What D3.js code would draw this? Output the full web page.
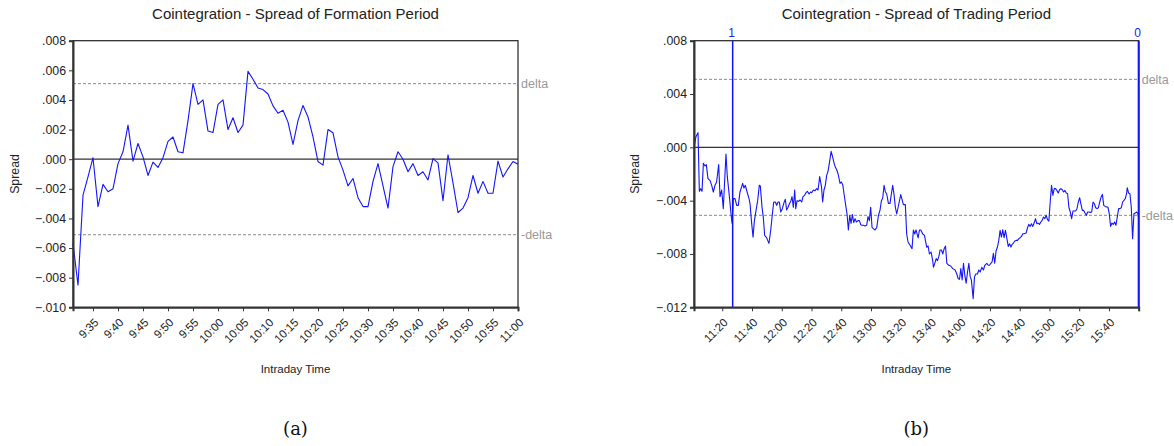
<!DOCTYPE html>
<html><head><meta charset="utf-8">
<script src="https://cdn.jsdelivr.net/npm/d3@7"></script>
<style>
body{margin:0;background:#fff}
svg text{font-family:"Liberation Sans",Arial,Helvetica,sans-serif}
</style>
</head><body>
<svg id="c" width="1174" height="446"></svg>
<script>
// ---------- data ----------
const formTitle = "Cointegration - Spread of Formation Period";
const tradeTitle = "Cointegration - Spread of Trading Period";
const formStart = "9:31", formEnd = "11:00";
// one value per minute from 9:31 to 11:00
const formValues = [-0.00569,-0.0085,-0.00243,-0.0012,0.0001,-0.0032,-0.0017,-0.0022,-0.002,-0.0003,
 0.0005,0.0023,-0.00013,0.00106,0.00016,-0.0011,-0.0002,-0.00056,0.0001,0.0012,
 0.0015,0.0005,0.00043,0.0026,0.0051,0.0037,0.004,0.0019,0.0018,0.0037,
 0.004,0.002,0.0028,0.0018,0.0023,0.00593,0.0054,0.0048,0.0047,0.0044,
 0.0036,0.0031,0.0033,0.0025,0.001,0.0026,0.00363,0.00285,0.0015,-0.00016,
 -0.0004,0.002,0.00178,0.00016,-0.00074,-0.0018,-0.0013,-0.0026,-0.0032,-0.0032,
 -0.0015,-0.0003,-0.0018,-0.0033,-0.0005,0.0005,0.0,-0.00085,-0.0003,-0.0011,
 -0.00085,-0.0014,0.00004,-0.00025,-0.0028,0.0003,-0.0016,-0.0036,-0.0033,-0.0026,
 -0.0011,-0.0023,-0.0015,-0.0023,-0.0023,-0.00013,-0.0012,-0.00065,-0.00016,-0.00034];
const formTicks = ["9:35","9:40","9:45","9:50","9:55","10:00","10:05","10:10","10:15","10:20",
 "10:25","10:30","10:35","10:40","10:45","10:50","10:55","11:00"];
const formYTicks = [0.008,0.006,0.004,0.002,0,-0.002,-0.004,-0.006,-0.008,-0.010];

const tradeStart = "11:01", tradeEnd = "16:00";
// minutes after 11:01 and spread values
const tradeOffsets = [0,1.3,2.7,3.6,4.5,5.4,6.3,7.4,8.3,9.4,10.8,11.9,13.0,14.1,15.2,16.6,17.5,18.6,19.7,21.5,
 22.4,23.8,24.9,25.6,26.5,27.6,28.7,29.8,30.9,32.1,32.7,33.6,34.5,35.7,37.0,37.7,38.6,39.7,40.6,41.7,
 42.8,43.9,44.6,45.7,46.6,47.5,48.7,49.6,50.4,51.6,52.7,53.6,54.7,55.6,56.5,57.4,58.3,59.4,60.5,61.4,
 62.3,63.2,64.1,65.2,65.9,66.8,67.7,68.4,69.3,70.4,71.3,72.4,73.3,74.4,75.3,76.2,77.4,78.3,79.1,80.3,
 81.4,82.5,83.4,84.5,85.7,86.5,87.4,88.3,89.2,90.1,91.0,92.2,93.3,94.2,95.1,96.0,96.9,98.2,99.1,100.0,
 100.9,102.0,102.9,103.8,104.7,105.6,106.5,107.4,108.3,109.2,110.3,111.2,112.1,113.0,113.9,115.0,116.1,117.0,117.9,118.8,
 119.7,120.6,121.7,122.9,124.0,125.1,126.0,126.9,127.8,128.7,129.6,130.7,131.8,132.7,133.6,134.5,135.4,136.3,137.7,139.0,
 140.8,142.1,143.0,143.9,145.3,146.6,147.5,148.4,149.3,150.7,151.6,152.5,153.8,155.0,155.6,156.5,157.4,158.3,159.4,160.5,
 161.0,161.9,162.8,163.7,164.6,165.5,166.4,167.3,168.2,169.1,170.0,171.3,172.6,174.0,175.6,176.7,177.6,178.5,179.4,180.3,
 181.2,182.1,183.0,183.9,184.8,185.7,186.5,187.7,188.6,189.5,190.6,191.5,192.4,193.5,194.6,195.5,196.9,197.8,198.7,199.6,
 200.4,201.3,202.2,203.1,204.0,204.9,205.8,206.7,207.6,208.5,209.4,210.4,211.3,212.2,213.1,213.9,214.8,215.7,216.6,217.5,
 218.4,219.3,220.2,221.1,222.0,223.3,224.2,225.1,226.0,226.9,227.8,228.7,229.6,230.5,231.4,232.3,233.2,234.1,235.0,235.9,
 236.8,237.7,238.6,239.5,240.4,241.3,242.2,243.1,244.0,244.9,245.8,246.7,247.6,248.5,249.4,250.3,251.2,252.1,253.0,253.9,
 254.8,255.7,256.6,257.5,258.4,259.3,260.2,261.1,262.0,262.9,263.8,264.7,265.6,266.5,267.4,268.3,269.2,270.1,271.0,271.9,
 272.8,273.7,274.6,275.5,276.5,277.4,278.3,279.2,280.1,281.0,281.9,282.8,283.7,284.6,285.5,286.4,287.3,288.2,289.1,290.0,
 290.9,291.3,292.2,293.1,294.0,294.9,295.8,296.7,297.6,298.5,299.0];
const tradeValues = [-0.0001,0.0008,0.0011,-0.0033,-0.0031,-0.0033,-0.0012,-0.0014,-0.0013,-0.00235,-0.0025,-0.00285,-0.00335,-0.00285,-0.0026,-0.0013,-0.0037,-0.0032,-0.0046,-0.0005,
 -0.0022,-0.0037,-0.005,-0.0057,-0.00385,-0.00385,-0.00435,-0.00435,-0.00335,-0.00295,-0.0027,-0.00305,-0.00285,-0.00335,-0.00385,-0.00425,-0.0055,-0.00675,-0.0055,-0.00475,
 -0.004,-0.00285,-0.0029,-0.00445,-0.00525,-0.0066,-0.00675,-0.007,-0.0072,-0.0062,-0.005,-0.0041,-0.0041,-0.00435,-0.0041,-0.0041,-0.00485,-0.0046,-0.00415,-0.0039,
 -0.0047,-0.0045,-0.00425,-0.004,-0.0037,-0.0045,-0.0032,-0.0046,-0.004,-0.00405,-0.00395,-0.0041,-0.0037,-0.0036,-0.0034,-0.0033,-0.0035,-0.00335,-0.0034,-0.0032,
 -0.00325,-0.0031,-0.0032,-0.0022,-0.00295,-0.0041,-0.0032,-0.00285,-0.0021,-0.0018,-0.0012,-0.0003,-0.00075,-0.0012,-0.0015,-0.0017,-0.002,-0.0027,-0.0026,-0.0028,
 -0.0035,-0.00435,-0.005,-0.0062,-0.0051,-0.0057,-0.00505,-0.00565,-0.00535,-0.0056,-0.0055,-0.0055,-0.0058,-0.00585,-0.00585,-0.0059,-0.00585,-0.0052,-0.0055,-0.0045,
 -0.006,-0.0061,-0.0062,-0.006,-0.0051,-0.0047,-0.004,-0.0038,-0.00285,-0.00335,-0.0035,-0.0042,-0.0042,-0.0035,-0.00285,-0.00355,-0.0045,-0.005,-0.00425,-0.00355,
 -0.0043,-0.0043,-0.0065,-0.0071,-0.00735,-0.0076,-0.0062,-0.0065,-0.0062,-0.0068,-0.0062,-0.0062,-0.0065,-0.0066,-0.007,-0.0075,-0.0074,-0.008,-0.00785,-0.0085,
 -0.009,-0.0087,-0.00835,-0.0085,-0.0082,-0.0077,-0.0077,-0.008,-0.0076,-0.0074,-0.0087,-0.00885,-0.0089,-0.0091,-0.0092,-0.0095,-0.00985,-0.0099,-0.0091,-0.00995,
 -0.0087,-0.0096,-0.0102,-0.00935,-0.0087,-0.0097,-0.00995,-0.01135,-0.0097,-0.0095,-0.0095,-0.0092,-0.00935,-0.009,-0.0092,-0.00885,-0.0087,-0.00885,-0.00885,-0.0087,
 -0.0086,-0.00795,-0.0087,-0.00778,-0.00748,-0.007,-0.00623,-0.00673,-0.00618,-0.00678,-0.00623,-0.00685,-0.00743,-0.00723,-0.00748,-0.00728,-0.00718,-0.00703,-0.00698,-0.00698,
 -0.00685,-0.00678,-0.00668,-0.00648,-0.00648,-0.00643,-0.00605,-0.00578,-0.00593,-0.00573,-0.00593,-0.00568,-0.00535,-0.00573,-0.00568,-0.00578,-0.0056,-0.00548,-0.00523,-0.00535,
 -0.0051,-0.00543,-0.00553,-0.0041,-0.00285,-0.0036,-0.0031,-0.0031,-0.00323,-0.00343,-0.00318,-0.0031,-0.00318,-0.00335,-0.00323,-0.00343,-0.00348,-0.00453,-0.00485,-0.00535,
 -0.00478,-0.00478,-0.00478,-0.0046,-0.0041,-0.00378,-0.00428,-0.00473,-0.00473,-0.00493,-0.0051,-0.00485,-0.00485,-0.00488,-0.00485,-0.0041,-0.00423,-0.00453,-0.0046,-0.00453,
 -0.0041,-0.00373,-0.00353,-0.00435,-0.00443,-0.00448,-0.00448,-0.00498,-0.00593,-0.00568,-0.00578,-0.0056,-0.00585,-0.00523,-0.0046,-0.0046,-0.00453,-0.0041,-0.00398,-0.00385,
 -0.00343,-0.00303,-0.00343,-0.00348,-0.00448,-0.00685,-0.00498,-0.00493,-0.00485,-0.00498,-0.00535];
const tradeTicks = ["11:20","11:40","12:00","12:20","12:40","13:00","13:20","13:40","14:00","14:20",
 "14:40","15:00","15:20","15:40"];
const tradeYTicks = [0.008,0.004,0,-0.004,-0.008,-0.012];
const delta = 0.0051;
const signalTimes = ["11:27","16:00"];
const signalLabels = ["1","0"];

// ---------- drawing ----------
const svg = d3.select("#c");
const toMin = s => { const [h,m] = s.split(":").map(Number); return h*60+m; };
const yFmt = d => { if (d === 0) return ".000"; return d3.format(".3f")(d).replace("0.", "."); };

function panel(o) {
  const g = svg.append("g");
  const x = d3.scaleLinear().domain([toMin(o.start), toMin(o.end)]).range([o.x0, o.x1]);
  const y = d3.scaleLinear().domain([o.yTicks[o.yTicks.length-1], o.yTicks[0]]).range([o.y1, o.y0]);
  const cx = (o.x0 + o.x1) / 2;

  g.append("text").attr("x", cx).attr("y", 19).attr("text-anchor", "middle")
    .attr("font-size", 15).attr("fill", "#222").text(o.title);

  // reference lines
  g.append("line").attr("x1", o.x0).attr("x2", o.x1).attr("y1", y(0)).attr("y2", y(0))
    .attr("stroke", "#333").attr("stroke-width", 1.2);
  [delta, -delta].forEach(v => {
    g.append("line").attr("x1", o.x0).attr("x2", o.x1).attr("y1", y(v)).attr("y2", y(v))
      .attr("stroke", "#8a8a8a").attr("stroke-width", 1).attr("stroke-dasharray", "3,2");
  });
  g.append("text").attr("x", o.x1 + 3).attr("y", y(delta) + 4.5).attr("font-size", 12.5)
    .attr("fill", "#999").text("delta");
  g.append("text").attr("x", o.x1 + 3).attr("y", y(-delta) + 4.5).attr("font-size", 12.5)
    .attr("fill", "#999").text("-delta");

  // frame
  g.append("rect").attr("x", o.x0).attr("y", o.y0).attr("width", o.x1 - o.x0).attr("height", o.y1 - o.y0)
    .attr("fill", "none").attr("stroke", "#222").attr("stroke-width", 1.2);

  // series
  const line = d3.line().x(d => x(d[0])).y(d => y(d[1]));
  g.append("path").datum(o.data).attr("d", line).attr("fill", "none")
    .attr("stroke", "#1414ff").attr("stroke-width", 1.1).attr("stroke-linejoin", "round");

  // signals
  (o.signals || []).forEach(s => {
    const sx = x(toMin(s.t));
    g.append("line").attr("x1", sx).attr("x2", sx).attr("y1", o.y0).attr("y2", o.y1)
      .attr("stroke", "#1010ff").attr("stroke-width", s.w);
    g.append("text").attr("x", sx - 1).attr("y", 37).attr("text-anchor", "middle")
      .attr("font-size", 12).attr("fill", "#2020ff").text(s.label);
  });

  // y axis
  const ya = g.append("g").attr("transform", `translate(${o.x0},0)`)
    .call(d3.axisLeft(y).tickValues(o.yTicks).tickFormat(yFmt).tickSize(4).tickPadding(3));
  ya.select(".domain").attr("stroke", "#333").attr("stroke-width", 2);
  ya.selectAll(".tick line").attr("stroke", "#333");
  ya.selectAll("text").attr("font-size", 12.3).attr("fill", "#222").style("font-family", "Liberation Sans, Arial, sans-serif");

  // x axis
  const tv = o.xTicks.map(toMin).concat(o.extraTick ? [toMin(o.end)] : []);
  const labelSet = new Set(o.xTicks.map(toMin));
  const xa = g.append("g").attr("transform", `translate(0,${o.y1})`)
    .call(d3.axisBottom(x).tickValues(tv).tickSize(4)
      .tickFormat(v => labelSet.has(v) ? o.xTicks[o.xTicks.map(toMin).indexOf(v)] : ""));
  xa.select(".domain").attr("stroke", "#333").attr("stroke-width", 2);
  xa.selectAll(".tick line").attr("stroke", "#333");
  xa.selectAll("text").attr("font-size", 11.5).attr("fill", "#222")
    .style("font-family", "Liberation Sans, Arial, sans-serif")
    .attr("text-anchor", "end").attr("x", 0).attr("y", 0).attr("dy", "0.35em")
    .attr("transform", "translate(3,13) rotate(-45)");

  g.append("text").attr("x", o.yLabelX).attr("y", (o.y0 + o.y1) / 2).attr("text-anchor", "middle")
    .attr("font-size", 12.3).attr("fill", "#222")
    .attr("transform", `rotate(-90,${o.yLabelX},${(o.y0 + o.y1) / 2})`).text("Spread");
  g.append("text").attr("x", cx).attr("y", 373).attr("text-anchor", "middle")
    .attr("font-size", 11.5).attr("fill", "#222").text("Intraday Time");
  g.append("text").attr("x", cx).attr("y", 435).attr("text-anchor", "middle")
    .attr("font-size", 18).attr("fill", "#111").style("font-family", "DejaVu Serif, serif").text(o.caption);
}

const fStart = toMin(formStart);
panel({
  title: formTitle, start: formStart, end: formEnd,
  x0: 73, x1: 518, y0: 40.7, y1: 307.3, yTicks: formYTicks, xTicks: formTicks,
  data: formValues.map((v, i) => [fStart + i, v]),
  yLabelX: 19, caption: "(a)", extraTick: false
});
const tStart = toMin(tradeStart);
panel({
  title: tradeTitle, start: tradeStart, end: tradeEnd,
  x0: 694, x1: 1138.7, y0: 40.7, y1: 307.3, yTicks: tradeYTicks, xTicks: tradeTicks,
  data: tradeOffsets.map((m, i) => [tStart + m, tradeValues[i]]),
  yLabelX: 639, caption: "(b)", extraTick: true,
  signals: signalTimes.map((t, i) => ({t, label: signalLabels[i], w: i === 0 ? 1.5 : 2}))
});
</script>
</body></html>
